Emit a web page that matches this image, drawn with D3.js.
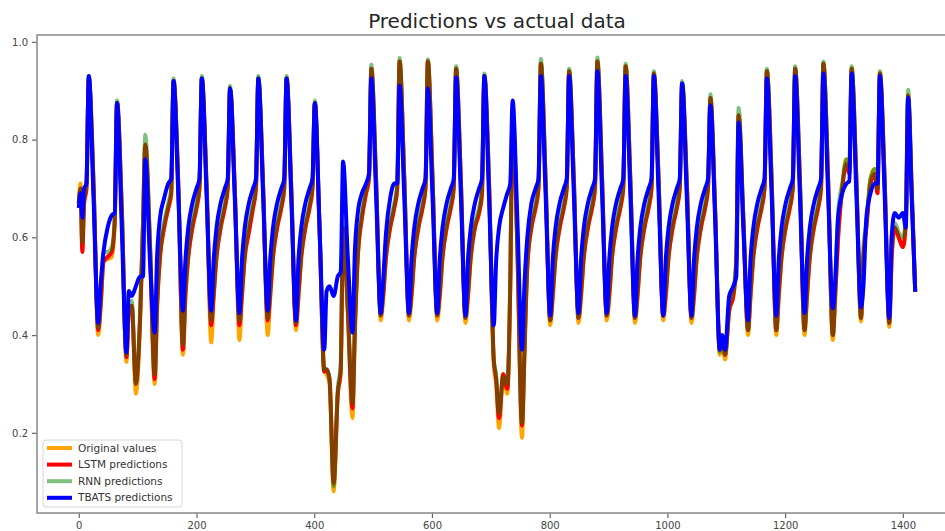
<!DOCTYPE html>
<html>
<head>
<meta charset="utf-8">
<script src="https://cdn.jsdelivr.net/npm/d3@7"></script>
<style>
	body { margin: 0; background: #fff; }
	text { font-family: "DejaVu Sans", sans-serif; }
</style>
</head>
<body>
<div id="chart"></div>
<script>

// Key points along the time index (shared by all series)
const xKeys = [
	0, 3, 6, 9, 13,
	17, 25, 33, 37, 42, 49, 56, 61,
	65, 73, 81, 85, 90, 97, 104, 109,
	113, 121, 129, 133, 138, 145, 152, 157,
	161, 169, 177, 181, 186, 193, 200, 205,
	209, 217, 225, 229, 234, 241, 248, 253,
	257, 265, 273, 277, 282, 289, 296, 301,
	305, 313, 321, 325, 330, 337, 344, 349,
	353, 361, 369, 373, 378, 385, 392, 397,
	401, 409, 417, 421, 426, 433, 440, 445,
	449, 457, 465, 469, 474, 481, 488, 493,
	497, 505, 513, 517, 522, 529, 536, 541,
	545, 553, 561, 565, 570, 577, 584, 589,
	593, 601, 609, 613, 618, 625, 632, 637,
	641, 649, 657, 661, 666, 673, 680, 685,
	689, 697, 705, 709, 714, 721, 728, 733,
	737, 745, 753, 757, 762, 769, 776, 781,
	785, 793, 801, 805, 810, 817, 824, 829,
	833, 841, 849, 853, 858, 865, 872, 877,
	881, 889, 897, 901, 906, 913, 920, 925,
	929, 937, 945, 949, 954, 961, 968, 973,
	977, 985, 993, 997, 1002, 1009, 1016, 1021,
	1025, 1033, 1041, 1045, 1050, 1057, 1064, 1069,
	1073, 1081, 1089, 1093, 1098, 1105, 1112, 1117,
	1121, 1129, 1137, 1141, 1146, 1153, 1160, 1165,
	1169, 1177, 1185, 1189, 1194, 1201, 1208, 1213,
	1217, 1225, 1233, 1237, 1242, 1249, 1256, 1261,
	1265, 1273, 1281, 1285, 1290, 1297, 1304, 1309,
	1313, 1321, 1329, 1333, 1338, 1345, 1352, 1357,
	1361, 1369, 1377, 1381, 1386, 1393, 1400, 1405,
	1409, 1415, 1421
];

const original = [
	0.67, 0.71, 0.58, 0.67, 0.70,
	0.925, 0.72, 0.40, 0.45, 0.55, 0.555, 0.56, 0.63,
	0.875, 0.66, 0.345, 0.45, 0.46, 0.28, 0.42, 0.62,
	0.79, 0.58, 0.30, 0.45, 0.56, 0.62, 0.66, 0.69,
	0.92, 0.71, 0.36, 0.47, 0.56, 0.62, 0.66, 0.70,
	0.925, 0.71, 0.385, 0.47, 0.56, 0.62, 0.66, 0.70,
	0.905, 0.70, 0.39, 0.47, 0.56, 0.62, 0.66, 0.70,
	0.925, 0.71, 0.40, 0.47, 0.56, 0.62, 0.66, 0.70,
	0.925, 0.70, 0.41, 0.47, 0.56, 0.62, 0.66, 0.70,
	0.875, 0.62, 0.33, 0.32, 0.30, 0.08, 0.28, 0.32,
	0.62, 0.45, 0.23, 0.40, 0.56, 0.64, 0.69, 0.72,
	0.945, 0.72, 0.43, 0.47, 0.56, 0.62, 0.66, 0.70,
	0.96, 0.72, 0.43, 0.47, 0.56, 0.62, 0.66, 0.70,
	0.96, 0.72, 0.43, 0.47, 0.56, 0.62, 0.66, 0.70,
	0.945, 0.72, 0.425, 0.47, 0.56, 0.62, 0.65, 0.69,
	0.93, 0.71, 0.34, 0.30, 0.21, 0.32, 0.28, 0.50,
	0.85, 0.58, 0.19, 0.35, 0.54, 0.62, 0.66, 0.70,
	0.955, 0.72, 0.42, 0.47, 0.56, 0.62, 0.66, 0.70,
	0.94, 0.72, 0.425, 0.47, 0.56, 0.62, 0.66, 0.70,
	0.96, 0.72, 0.43, 0.47, 0.56, 0.62, 0.66, 0.70,
	0.95, 0.72, 0.425, 0.47, 0.56, 0.62, 0.66, 0.70,
	0.935, 0.72, 0.43, 0.47, 0.56, 0.62, 0.66, 0.70,
	0.915, 0.71, 0.425, 0.47, 0.56, 0.62, 0.66, 0.70,
	0.885, 0.66, 0.36, 0.38, 0.35, 0.45, 0.48, 0.55,
	0.85, 0.64, 0.40, 0.47, 0.56, 0.62, 0.66, 0.70,
	0.94, 0.72, 0.40, 0.47, 0.56, 0.62, 0.66, 0.70,
	0.945, 0.72, 0.40, 0.47, 0.56, 0.62, 0.66, 0.70,
	0.955, 0.72, 0.39, 0.47, 0.60, 0.70, 0.76, 0.74,
	0.945, 0.72, 0.428, 0.55, 0.62, 0.72, 0.74, 0.70,
	0.935, 0.72, 0.417, 0.55, 0.62, 0.60, 0.58, 0.63,
	0.89, 0.70, 0.489
];

const lstm = [
	0.67, 0.70, 0.57, 0.67, 0.70,
	0.925, 0.71, 0.41, 0.46, 0.55, 0.56, 0.57, 0.63,
	0.875, 0.66, 0.355, 0.45, 0.46, 0.30, 0.43, 0.62,
	0.79, 0.58, 0.31, 0.46, 0.56, 0.62, 0.66, 0.69,
	0.92, 0.71, 0.37, 0.48, 0.56, 0.62, 0.66, 0.70,
	0.925, 0.71, 0.42, 0.48, 0.56, 0.62, 0.66, 0.70,
	0.905, 0.70, 0.42, 0.48, 0.56, 0.61, 0.66, 0.70,
	0.925, 0.71, 0.43, 0.48, 0.56, 0.62, 0.66, 0.70,
	0.925, 0.70, 0.42, 0.48, 0.56, 0.62, 0.66, 0.70,
	0.875, 0.62, 0.325, 0.33, 0.31, 0.097, 0.28, 0.33,
	0.62, 0.45, 0.25, 0.41, 0.56, 0.64, 0.69, 0.72,
	0.945, 0.72, 0.44, 0.48, 0.56, 0.62, 0.66, 0.70,
	0.96, 0.72, 0.44, 0.48, 0.56, 0.62, 0.66, 0.70,
	0.96, 0.72, 0.44, 0.48, 0.56, 0.62, 0.66, 0.70,
	0.945, 0.72, 0.435, 0.48, 0.56, 0.62, 0.65, 0.69,
	0.93, 0.71, 0.35, 0.31, 0.23, 0.32, 0.29, 0.50,
	0.85, 0.58, 0.215, 0.36, 0.54, 0.62, 0.66, 0.70,
	0.955, 0.72, 0.43, 0.48, 0.56, 0.62, 0.66, 0.70,
	0.94, 0.72, 0.435, 0.48, 0.56, 0.62, 0.66, 0.70,
	0.96, 0.72, 0.44, 0.48, 0.56, 0.62, 0.66, 0.70,
	0.95, 0.72, 0.435, 0.48, 0.56, 0.62, 0.66, 0.70,
	0.935, 0.72, 0.44, 0.48, 0.56, 0.62, 0.66, 0.70,
	0.915, 0.71, 0.435, 0.48, 0.56, 0.62, 0.66, 0.70,
	0.885, 0.66, 0.37, 0.39, 0.36, 0.45, 0.48, 0.55,
	0.85, 0.64, 0.41, 0.48, 0.56, 0.62, 0.66, 0.70,
	0.94, 0.72, 0.41, 0.48, 0.56, 0.62, 0.66, 0.70,
	0.945, 0.72, 0.41, 0.48, 0.56, 0.62, 0.66, 0.70,
	0.955, 0.72, 0.40, 0.48, 0.60, 0.70, 0.75, 0.73,
	0.945, 0.72, 0.435, 0.56, 0.62, 0.71, 0.73, 0.69,
	0.935, 0.72, 0.425, 0.56, 0.62, 0.60, 0.58, 0.63,
	0.89, 0.70, 0.489
];

const rnn = [
	0.67, 0.70, 0.59, 0.68, 0.71,
	0.93, 0.71, 0.415, 0.47, 0.57, 0.57, 0.58, 0.64,
	0.88, 0.66, 0.36, 0.46, 0.47, 0.30, 0.44, 0.63,
	0.81, 0.59, 0.32, 0.47, 0.57, 0.63, 0.67, 0.70,
	0.925, 0.71, 0.38, 0.49, 0.57, 0.63, 0.67, 0.71,
	0.93, 0.71, 0.43, 0.49, 0.57, 0.63, 0.67, 0.71,
	0.91, 0.70, 0.43, 0.49, 0.57, 0.63, 0.67, 0.71,
	0.93, 0.71, 0.435, 0.49, 0.57, 0.63, 0.67, 0.71,
	0.93, 0.70, 0.425, 0.49, 0.57, 0.63, 0.67, 0.71,
	0.88, 0.62, 0.33, 0.33, 0.31, 0.09, 0.29, 0.34,
	0.63, 0.46, 0.26, 0.42, 0.57, 0.65, 0.70, 0.73,
	0.953, 0.72, 0.44, 0.49, 0.57, 0.63, 0.67, 0.71,
	0.967, 0.72, 0.44, 0.49, 0.57, 0.63, 0.67, 0.71,
	0.964, 0.72, 0.44, 0.49, 0.57, 0.63, 0.67, 0.71,
	0.95, 0.72, 0.435, 0.49, 0.57, 0.63, 0.66, 0.70,
	0.935, 0.71, 0.35, 0.32, 0.24, 0.315, 0.30, 0.51,
	0.865, 0.59, 0.22, 0.37, 0.55, 0.63, 0.67, 0.71,
	0.965, 0.72, 0.43, 0.49, 0.57, 0.63, 0.67, 0.71,
	0.945, 0.72, 0.435, 0.49, 0.57, 0.63, 0.67, 0.71,
	0.968, 0.72, 0.44, 0.49, 0.57, 0.63, 0.67, 0.71,
	0.955, 0.72, 0.435, 0.49, 0.57, 0.63, 0.67, 0.71,
	0.94, 0.72, 0.44, 0.49, 0.57, 0.63, 0.67, 0.71,
	0.92, 0.71, 0.435, 0.49, 0.57, 0.63, 0.67, 0.71,
	0.893, 0.66, 0.365, 0.39, 0.36, 0.46, 0.49, 0.56,
	0.865, 0.64, 0.41, 0.49, 0.57, 0.63, 0.67, 0.71,
	0.945, 0.72, 0.41, 0.49, 0.57, 0.63, 0.67, 0.71,
	0.95, 0.72, 0.41, 0.49, 0.57, 0.63, 0.67, 0.71,
	0.96, 0.72, 0.40, 0.50, 0.65, 0.71, 0.76, 0.74,
	0.95, 0.72, 0.435, 0.58, 0.63, 0.72, 0.74, 0.70,
	0.94, 0.72, 0.425, 0.60, 0.63, 0.61, 0.60, 0.64,
	0.902, 0.70, 0.489
];

const tbats = [
	0.66, 0.69, 0.64, 0.70, 0.71,
	0.93, 0.68, 0.425, 0.50, 0.57, 0.62, 0.645, 0.65,
	0.875, 0.62, 0.365, 0.49, 0.48, 0.50, 0.52, 0.52,
	0.76, 0.55, 0.405, 0.56, 0.64, 0.68, 0.71, 0.72,
	0.92, 0.69, 0.45, 0.55, 0.62, 0.67, 0.70, 0.72,
	0.925, 0.69, 0.45, 0.55, 0.62, 0.67, 0.70, 0.72,
	0.905, 0.68, 0.445, 0.55, 0.62, 0.67, 0.70, 0.72,
	0.925, 0.69, 0.45, 0.55, 0.62, 0.67, 0.70, 0.72,
	0.925, 0.68, 0.43, 0.55, 0.62, 0.67, 0.70, 0.72,
	0.875, 0.62, 0.37, 0.49, 0.50, 0.48, 0.52, 0.53,
	0.755, 0.56, 0.405, 0.57, 0.65, 0.69, 0.71, 0.73,
	0.925, 0.69, 0.445, 0.51, 0.61, 0.68, 0.71, 0.71,
	0.91, 0.68, 0.445, 0.55, 0.62, 0.67, 0.70, 0.72,
	0.905, 0.68, 0.445, 0.55, 0.62, 0.67, 0.70, 0.72,
	0.927, 0.69, 0.44, 0.55, 0.62, 0.67, 0.70, 0.72,
	0.93, 0.68, 0.42, 0.55, 0.62, 0.66, 0.69, 0.71,
	0.88, 0.64, 0.37, 0.50, 0.60, 0.67, 0.70, 0.72,
	0.93, 0.69, 0.44, 0.55, 0.62, 0.67, 0.70, 0.72,
	0.93, 0.69, 0.445, 0.55, 0.62, 0.67, 0.70, 0.72,
	0.94, 0.69, 0.445, 0.55, 0.62, 0.67, 0.70, 0.72,
	0.93, 0.69, 0.44, 0.55, 0.62, 0.67, 0.70, 0.72,
	0.93, 0.69, 0.44, 0.55, 0.62, 0.67, 0.70, 0.72,
	0.915, 0.68, 0.44, 0.55, 0.62, 0.67, 0.70, 0.72,
	0.87, 0.64, 0.37, 0.40, 0.37, 0.48, 0.50, 0.52,
	0.835, 0.62, 0.43, 0.55, 0.62, 0.67, 0.70, 0.72,
	0.925, 0.69, 0.44, 0.55, 0.62, 0.67, 0.70, 0.72,
	0.93, 0.69, 0.445, 0.55, 0.62, 0.67, 0.70, 0.72,
	0.935, 0.69, 0.455, 0.51, 0.64, 0.69, 0.71, 0.715,
	0.935, 0.69, 0.457, 0.50, 0.64, 0.69, 0.71, 0.71,
	0.93, 0.69, 0.435, 0.60, 0.65, 0.64, 0.65, 0.62,
	0.885, 0.68, 0.489
];

const seriesNames = ['Original values', 'LSTM predictions', 'RNN predictions', 'TBATS predictions'];
const xTicks = [0, 200, 400, 600, 800, 1000, 1200, 1400];
const yTicks = [0.2, 0.4, 0.6, 0.8, 1.0];

const width = 945, height = 531;
const margin = { top: 35, right: -12, bottom: 18, left: 37 };

const svg = d3.select('#chart').append('svg')
	.attr('width', width)
	.attr('height', height);

// matplotlib-like limits: 5% padding around the data
const x = d3.scaleLinear()
	.domain([-71, 1492])
	.range([margin.left, width - margin.right]);

const y = d3.scaleLinear()
	.domain([0.036, 1.014])
	.range([height - margin.bottom, margin.top]);

const series = [
	{ name: seriesNames[0], values: original, color: '#ffa500', opacity: 1 },
	{ name: seriesNames[1], values: lstm, color: '#ff0000', opacity: 1 },
	{ name: seriesNames[2], values: rnn, color: '#008000', opacity: 0.5 },
	{ name: seriesNames[3], values: tbats, color: '#0000ff', opacity: 1 }
];

svg.append('defs').append('clipPath')
	.attr('id', 'plot-clip')
	.append('rect')
		.attr('x', margin.left)
		.attr('y', margin.top)
		.attr('width', width - margin.right - margin.left)
		.attr('height', height - margin.bottom - margin.top);

const line = d3.line()
	.x(d => x(d[0]))
	.y(d => y(d[1]))
	.curve(d3.curveMonotoneX);

svg.append('g')
	.attr('clip-path', 'url(#plot-clip)')
	.selectAll('path')
	.data(series)
	.enter()
		.append('path')
			.attr('d', s => line(xKeys.map((k, i) => [k, s.values[i]])))
			.style('fill', 'none')
			.style('stroke', s => s.color)
			.style('stroke-opacity', s => s.opacity)
			.style('stroke-width', 4)
			.style('stroke-linejoin', 'round')
			.style('stroke-linecap', 'butt');

// Axes
const xAxis = svg.append('g')
	.attr('transform', `translate(0,${height - margin.bottom})`)
	.call(d3.axisBottom(x).tickValues(xTicks).tickSize(5).tickPadding(4).tickFormat(d3.format('d')));

const yAxis = svg.append('g')
	.attr('transform', `translate(${margin.left},0)`)
	.call(d3.axisLeft(y).tickValues(yTicks).tickSize(5).tickPadding(4).tickFormat(d3.format('.1f')));

[xAxis, yAxis].forEach(ax => {
	ax.select('.domain').remove();
	ax.selectAll('.tick line').style('stroke', '#666').style('stroke-width', 1.2);
	ax.selectAll('.tick text')
		.style('font-size', '10px')
		.style('fill', '#444')
		.style('font-family', '"DejaVu Sans", sans-serif');
});

// Frame
svg.append('rect')
	.attr('x', margin.left)
	.attr('y', margin.top)
	.attr('width', width - margin.right - margin.left)
	.attr('height', height - margin.bottom - margin.top)
	.style('fill', 'none')
	.style('stroke', '#8f8f8f')
	.style('stroke-width', 1.6);

// Title
svg.append('text')
	.attr('x', (margin.left + width - margin.right) / 2)
	.attr('y', 28)
	.attr('text-anchor', 'middle')
	.style('font-size', '20px')
	.style('fill', '#262626')
	.text('Predictions vs actual data');

// Legend
const legend = svg.append('g')
	.attr('transform', 'translate(43,440)');

legend.append('rect')
	.attr('width', 139)
	.attr('height', 67)
	.attr('rx', 3)
	.style('fill', '#fff')
	.style('fill-opacity', 0.8)
	.style('stroke', '#d6d6d6');

series.forEach((s, i) => {
	const row = legend.append('g')
		.attr('transform', `translate(0,${8 + i * 16.6})`);
	row.append('line')
		.attr('x1', 4)
		.attr('x2', 29)
		.style('stroke', s.color)
		.style('stroke-opacity', s.opacity)
		.style('stroke-width', 4);
	row.append('text')
		.attr('x', 35)
		.attr('dy', '0.35em')
		.style('font-size', '10.5px')
		.style('fill', '#333')
		.text(s.name);
});

</script>
</body>
</html>
